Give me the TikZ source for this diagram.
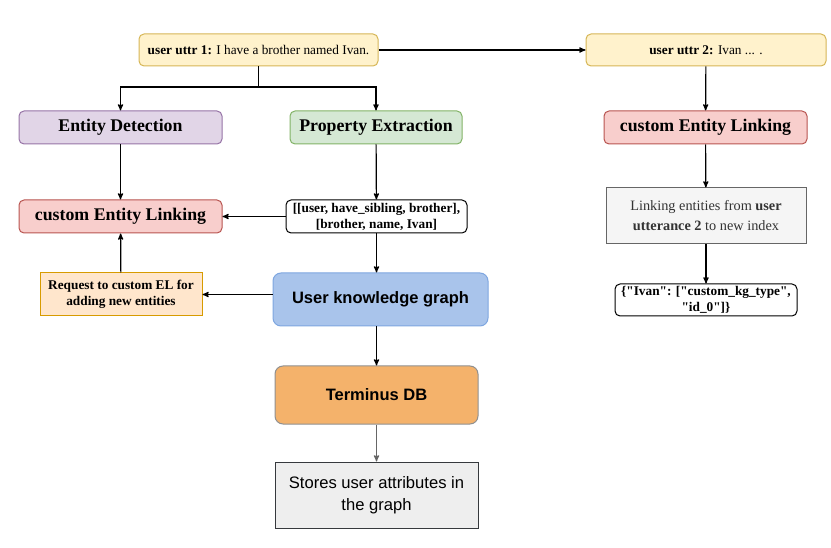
\documentclass[tikz,border=0pt]{standalone}
\usepackage{fontspec}
\setmainfont{Liberation Serif}[Ligatures=TeXOff]
\setsansfont{Liberation Sans}
\usetikzlibrary{arrows}
\usetikzlibrary{shapes}

\definecolor{uttrfill}{HTML}{FFF2CC}
\definecolor{uttrline}{HTML}{D6B656}
\definecolor{detfill}{HTML}{E1D5E7}
\definecolor{detline}{HTML}{9673A6}
\definecolor{propfill}{HTML}{D5E8D4}
\definecolor{propline}{HTML}{82B366}
\definecolor{elfill}{HTML}{F8CECC}
\definecolor{elline}{HTML}{B85450}
\definecolor{reqfill}{HTML}{FFE6CC}
\definecolor{reqline}{HTML}{D79B00}
\definecolor{kgfill}{HTML}{A9C4EB}
\definecolor{kgline}{HTML}{7EA6E0}
\definecolor{dbfill}{HTML}{F4B26B}
\definecolor{dbline}{HTML}{909090}
\definecolor{grayfill}{HTML}{F5F5F5}
\definecolor{grayline}{HTML}{666666}
\definecolor{graytext}{HTML}{333333}
\definecolor{storefill}{HTML}{EEEEEE}
\definecolor{storeline}{HTML}{36393D}

\tikzset{
    box/.style={draw, rounded corners=5pt, inner sep=0pt, align=center, line width=1pt},
    small/.style={font=\fontsize{13.3}{16}\selectfont},
    smallbf/.style={font=\fontsize{13.3}{16}\selectfont\bfseries},
    big/.style={font=\fontsize{17.8}{20}\selectfont\bfseries},
    bigsans/.style={font=\fontsize{16.5}{20}\sffamily\selectfont\bfseries},
}

\begin{document}
\begin{tikzpicture}[x=1pt, y=-1pt, >=stealth', every path/.style={line width=1.2pt}]
    \useasboundingbox (0,0) rectangle (831,548);

    \node[box, small, fill=uttrfill, draw=uttrline, minimum width=239pt, minimum height=32pt] (U1) at (258.5,50) {\textbf{user uttr 1:} I have a brother named Ivan.};
    \node[box, small, fill=uttrfill, draw=uttrline, minimum width=240pt, minimum height=32pt] (U2) at (706,50) {\textbf{user uttr 2:} Ivan ... .};
    \node[box, big, fill=detfill, draw=detline, minimum width=203pt, minimum height=33pt] (ED) at (120.5,127.5) {Entity Detection};
    \node[box, big, fill=propfill, draw=propline, minimum width=172pt, minimum height=33pt] (PE) at (376,127.5) {Property Extraction};
    \node[box, big, fill=elfill, draw=elline, minimum width=203pt, minimum height=33pt] (EL1) at (120.5,216.5) {custom Entity Linking};
    \node[box, smallbf, fill=white, draw=black, minimum width=181pt, minimum height=33pt] (T) at (376.5,216.5) {[[user, have\_sibling, brother],\\ {[brother, name, Ivan]}};
    \node[box, big, fill=elfill, draw=elline, minimum width=203pt, minimum height=33pt] (EL2) at (705.5,127.5) {custom Entity Linking};
    \node[box, rounded corners=0pt, font=\fontsize{14.3}{20}\selectfont, text=graytext, fill=grayfill, draw=grayline, minimum width=200pt, minimum height=56pt] (LI) at (706,216) {Linking entities from \textbf{user}\\ \textbf{utterance 2} to new index};
    \node[box, smallbf, fill=white, draw=black, minimum width=182pt, minimum height=32pt] (J) at (706,300) {\{"Ivan": ["custom\_kg\_type",\\ "id\_0"]\}};
    \node[box, rounded corners=0pt, smallbf, fill=reqfill, draw=reqline, minimum width=162pt, minimum height=43pt] (R) at (121,294.5) {Request to custom EL for\\ adding new entities};
    \node[box, rounded corners=8pt, bigsans, fill=kgfill, draw=kgline, minimum width=215pt, minimum height=53pt] (KG) at (380.5,299.5) {User knowledge graph};
    \node[box, rounded corners=8pt, bigsans, fill=dbfill, draw=dbline, minimum width=203pt, minimum height=58pt] (DB) at (376.5,395) {Terminus DB};
    \node[box, rounded corners=0pt, font=\fontsize{16.6}{22}\sffamily\selectfont, fill=storefill, draw=storeline, minimum width=203pt, minimum height=66pt] (S) at (376.5,495) {Stores user attributes in\\ the graph};

    \coordinate (Split) at (258.5,87);

    \draw (U1) -- (Split);
    \draw[->] (Split) -| (ED);
    \draw[->] (Split) -| (PE);
    \draw[->] (U1) -- (U2);
    \draw[->] (U2) -- (EL2);
    \draw[->] (EL2) -- (LI);
    \draw[->] (LI) -- (J);
    \draw[->] (ED) -- (EL1);
    \draw[->] (PE) -- (T);
    \draw[->] (T) -- (EL1);
    \draw[->] (T.south) -- (T.south |- KG.north);
    \draw[->] (KG.west |- R) -- (R);
    \draw[->] (R) -- (EL1);
    \draw[->] (KG.south -| DB) -- (DB);
    \draw[->, grayline] (DB) -- (S);

\end{tikzpicture}
\end{document}
